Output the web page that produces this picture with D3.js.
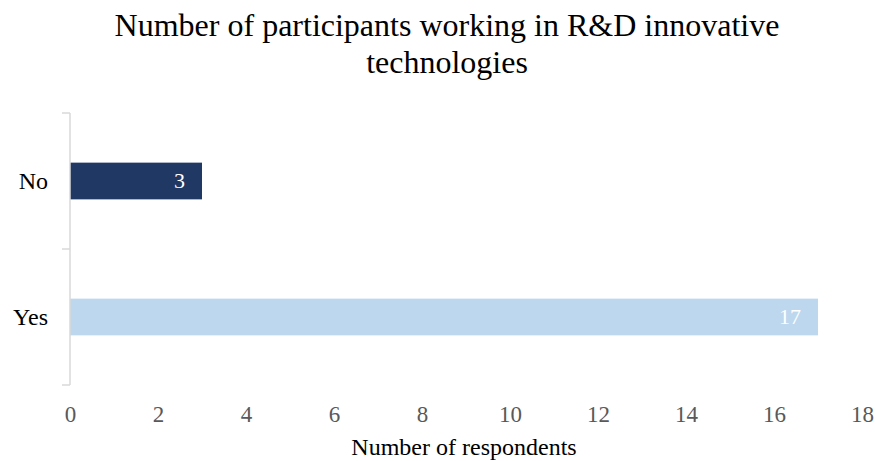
<!DOCTYPE html>
<html>
<head>
<meta charset="utf-8">
<script src="https://cdn.jsdelivr.net/npm/d3@7"></script>
<style>
  body { margin: 0; background: #fff; }
  svg { display: block; font-family: "Liberation Serif", "Times New Roman", serif; }
</style>
</head>
<body>
<svg id="chart" width="876" height="461"></svg>
<script>
// Survey answers and respondent counts
const categories = ["No", "Yes"];
const counts = [3, 17];
const barColors = ["#203864", "#BDD7EE"];
const xTicks = [0, 2, 4, 6, 8, 10, 12, 14, 16, 18];
const titleLines = ["Number of participants working in R&D innovative", "technologies"];
const xAxisTitle = "Number of respondents";

const svg = d3.select("#chart");
const margin = { left: 70, right: 14, top: 113, bottom: 76 };
const width = 876, height = 461;

const x = d3.scaleLinear().domain([0, 18]).range([margin.left, width - margin.right]);
const y = d3.scaleBand().domain(categories).range([margin.top, height - margin.bottom]).paddingInner(0.73).paddingOuter(0.365);

// Title
svg.append("g").selectAll("text").data(titleLines).join("text")
  .attr("x", 447).attr("y", (d, i) => 36 + i * 37)
  .attr("text-anchor", "middle")
  .attr("font-size", 32).attr("fill", "#000")
  .text(d => d);

// Bars
const data = categories.map((c, i) => ({ c, v: counts[i], color: barColors[i] }));
svg.append("g").selectAll("rect").data(data).join("rect")
  .attr("x", x(0)).attr("y", d => y(d.c))
  .attr("width", d => x(d.v) - x(0)).attr("height", y.bandwidth())
  .attr("fill", d => d.color);

// Value labels inside bar ends
svg.append("g").selectAll("text").data(data).join("text")
  .attr("x", d => x(d.v) - 17).attr("y", d => y(d.c) + y.bandwidth() / 2)
  .attr("dy", "0.33em").attr("text-anchor", "end")
  .attr("font-size", 22).attr("fill", "#fff")
  .text(d => d.v);

// Category axis (vertical line with band-edge ticks)
const yAxis = svg.append("g");
const edges = [margin.top, ...categories.slice(1).map(c => y(c) - y.step() * y.paddingInner() / 2), height - margin.bottom];
yAxis.append("line")
  .attr("x1", x(0)).attr("x2", x(0))
  .attr("y1", margin.top).attr("y2", height - margin.bottom)
  .attr("stroke", "#d9d9d9").attr("stroke-width", 1.5);
yAxis.selectAll("line.tick").data(edges).join("line").attr("class", "tick")
  .attr("x1", x(0) - 8).attr("x2", x(0))
  .attr("y1", d => d).attr("y2", d => d)
  .attr("stroke", "#d9d9d9").attr("stroke-width", 1.5);
yAxis.selectAll("text").data(categories).join("text")
  .attr("x", x(0) - 22).attr("y", c => y(c) + y.bandwidth() / 2)
  .attr("dy", "0.33em").attr("text-anchor", "end")
  .attr("font-size", 24).attr("fill", "#000")
  .text(c => c);

// Value axis labels
const xAxis = d3.axisBottom(x).tickValues(xTicks).tickSize(0).tickPadding(0);
const gx = svg.append("g").attr("transform", "translate(0, 422)").call(xAxis);
gx.select(".domain").remove();
gx.selectAll("text")
  .attr("font-family", "Liberation Serif, Times New Roman, serif")
  .attr("font-size", 23).attr("fill", "#595959").attr("dy", 0).attr("y", 0);

// Axis title
svg.append("text")
  .attr("x", 464).attr("y", 455)
  .attr("text-anchor", "middle").attr("font-size", 24).attr("fill", "#000")
  .text(xAxisTitle);
</script>
</body>
</html>
